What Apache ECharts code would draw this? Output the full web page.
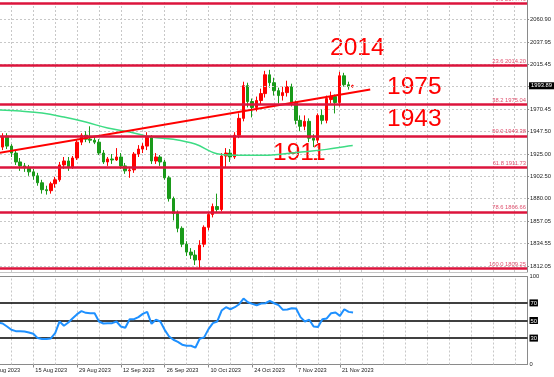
<!DOCTYPE html>
<html>
<head>
<meta charset="utf-8">
<script src="https://cdn.jsdelivr.net/npm/echarts@6.0.0/dist/echarts.min.js"></script>
<style>
  html, body { margin: 0; padding: 0; background: #ffffff; }
  #chart { width: 554px; height: 377px; }
</style>
</head>
<body>
<div id="chart"></div>
<script>
// daily bars from 3 Aug 2023 to 24 Nov 2023: [open, close, low, high]
var ohlc = [
  [1935, 1933, 1928, 1938], [1932, 1943, 1929, 1946], [1943, 1933, 1930, 1946], [1933, 1926, 1922, 1935],
  [1926, 1917, 1914, 1929], [1917, 1913, 1908, 1921], [1913, 1911, 1907, 1916], [1911, 1907, 1903, 1914],
  [1907, 1903, 1899, 1910], [1903, 1896, 1893, 1906], [1896, 1889, 1885, 1899], [1889, 1888, 1884, 1893],
  [1888, 1895, 1885, 1897], [1895, 1899, 1891, 1902], [1899, 1914, 1897, 1917], [1914, 1918, 1910, 1922],
  [1918, 1912, 1908, 1922], [1912, 1921, 1910, 1923], [1921, 1937, 1919, 1939], [1937, 1944, 1934, 1946],
  [1944, 1940, 1937, 1948], [1940, 1939, 1936, 1953], [1939, 1937, 1935, 1942], [1937, 1926, 1924, 1940],
  [1926, 1917, 1915, 1929], [1917, 1920, 1913, 1922], [1920, 1919, 1915, 1925], [1919, 1922, 1918, 1931],
  [1922, 1913, 1910, 1926], [1913, 1908, 1905, 1916], [1908, 1909, 1901, 1912], [1909, 1925, 1906, 1927],
  [1925, 1930, 1922, 1934], [1930, 1933, 1926, 1936], [1933, 1942, 1929, 1947], [1942, 1918, 1915, 1944],
  [1918, 1922, 1915, 1926], [1922, 1917, 1913, 1924], [1917, 1901, 1899, 1919], [1901, 1880, 1877, 1903],
  [1880, 1865, 1858, 1882], [1865, 1850, 1846, 1868], [1850, 1834, 1831, 1852], [1834, 1826, 1822, 1837],
  [1826, 1823, 1819, 1830], [1823, 1818, 1813, 1828], [1818, 1833, 1810, 1838], [1834, 1851, 1831, 1853],
  [1851, 1864, 1848, 1866], [1864, 1872, 1861, 1875], [1872, 1869, 1866, 1885], [1869, 1923, 1867, 1926],
  [1923, 1926, 1912, 1931], [1926, 1922, 1917, 1930], [1922, 1944, 1920, 1947], [1944, 1961, 1941, 1966],
  [1961, 1994, 1958, 1998], [1994, 1978, 1972, 1997], [1978, 1972, 1962, 1981], [1972, 1979, 1968, 1983],
  [1979, 1986, 1975, 1991], [1986, 2005, 1982, 2009], [2005, 1997, 1992, 2010], [1997, 1989, 1984, 2002],
  [1989, 1984, 1976, 1992], [1984, 1987, 1979, 1993], [1987, 1993, 1983, 1999], [1993, 1977, 1973, 1996],
  [1977, 1959, 1955, 1979], [1959, 1953, 1948, 1964], [1953, 1958, 1949, 1964], [1958, 1941, 1937, 1961],
  [1941, 1939, 1932, 1945], [1939, 1964, 1936, 1966], [1964, 1959, 1955, 1970], [1959, 1981, 1956, 1984],
  [1980, 1983, 1976, 1988], [1983, 1977, 1966, 1985], [1977, 2004, 1973, 2008], [2004, 1995, 1993, 2007],
  [1995, 1993, 1990, 1998], [1993, 1993.89, 1992, 1995]
];

// RSI, one value per bar
var rsi = [
  47.7, 46.6, 43.2, 39.4, 37.9, 37.9, 37.5, 36.4, 34.9, 30.0,
  28.9, 28.9, 29.6, 35.7, 48.9, 44.0, 47.7, 52.6, 57.2, 60.6,
  58.7, 58.3, 58.3, 48.9, 46.6, 47.0, 47.0, 48.9, 43.2, 41.7,
  51.5, 51.5, 53.8, 57.5, 59.8, 46.2, 50.8, 48.9, 39.4, 31.9,
  28.1, 25.8, 22.5, 21.3, 21.3, 19.1, 29.2, 30.8, 40.2, 47.0,
  48.9, 61.3, 65.1, 62.8, 65.1, 68.5, 74.9, 70.8, 68.9, 67.4,
  69.2, 69.6, 72.3, 69.6, 67.4, 62.1, 62.5, 64.0, 63.6, 53.8,
  48.9, 50.8, 43.2, 42.5, 51.5, 52.3, 58.3, 59.1, 55.3, 62.8,
  59.8, 59.1
];

// moving average read every few bars: [bar, value]
var maPoints = [
  [0, 1969.6], [5, 1968.4], [10, 1966.4], [15, 1962.3], [20, 1957.3], [25, 1951.2],
  [30, 1947.2], [35, 1942.1], [40, 1940.0], [45, 1935.1], [50, 1925.3], [55, 1923.7],
  [60, 1923.7], [65, 1925.0], [70, 1927.3], [75, 1929.7], [80, 1933.1], [81, 1933.6]
];

// trend line ends: [bar, price]
var trendPoints = [[0, 1926.0], [85, 1990.1]];

var fibPct = [0.0, 23.6, 38.2, 50.0, 61.8, 78.6, 100.0];
var fibPrice = [2077.49, 2014.20, 1975.04, 1943.38, 1911.73, 1866.66, 1809.25];

var priceLabels = [2060.90, 2037.95, 2015.45, 1970.45, 1947.50, 1925.00, 1902.50, 1880.00, 1857.05, 1834.55, 1812.05];
var priceGrid = [2060.90, 2037.95, 2015.45, 1992.95, 1970.45, 1947.50, 1925.00, 1902.50, 1880.00, 1857.05, 1834.55, 1812.05];
var lastPrice = 1993.89;

var rsiLabels = [0, 30, 50, 70, 100];
var rsiLevels = [30, 50, 70];

var levelTexts = ['2014', '1975', '1943', '1911'];

// trading days from 1 Aug 2023; bar 0 (3 Aug) is days[2]
var PAD = 2;
var months = ['Jan','Feb','Mar','Apr','May','Jun','Jul','Aug','Sep','Oct','Nov','Dec'];
var days = [];
var d = new Date(2023, 7, 1);
while (days.length < 130) {
  if (d.getDay() != 0 && d.getDay() != 6) {
    days.push(d.getDate() + ' ' + months[d.getMonth()] + ' ' + d.getFullYear());
  }
  d.setDate(d.getDate() + 1);
}
var lastBar = ohlc.length - 1;

// weekly grid every 5 bars, date label every 10 bars
var weekLines = [];
for (var w = 3; w < 121; w += 5) weekLines.push(w);
var dateBars = [];
for (var b = 8; b <= lastBar; b += 10) dateBars.push(b);

var candleData = ohlc.map(function (c, i) { return [i, c[0], c[1], c[2], c[3]]; });
var rsiData = rsi.map(function (v, i) { return [i, v]; });

var fibLines = fibPrice.map(function (p, i) {
  return { yAxis: p, label: { formatter: fibPct[i].toFixed(1) + ' ' + p.toFixed(2) } };
});
fibLines.push({
  yAxis: lastPrice,
  lineStyle: { color: '#c8c8c8', width: 1, type: [2, 2] },
  label: {
    position: 'end', distance: 2, formatter: lastPrice.toFixed(2),
    color: '#ffffff', backgroundColor: '#000000', padding: [1, 2, 0, 2], fontSize: 5.8
  }
});

var FONT = '"Liberation Sans", Arial, sans-serif';
var dash = { color: '#c8c8c8', width: 1, type: [2, 2] };
var vLines = weekLines.map(function (v) { return { xAxis: v }; });
var hLines = priceGrid.map(function (v) { return { yAxis: v }; });

var X_MIN = 0.4, X_MAX = 120.83;

var chart = echarts.init(document.getElementById('chart'));

var option = {
  animation: false,
  backgroundColor: '#ffffff',
  grid: [
    { left: 0, right: 26.5, top: 0, height: 272 },
    { left: 0, right: 26.5, top: 276.5, height: 88 }
  ],
  xAxis: [
    {
      type: 'value', gridIndex: 0, min: X_MIN, max: X_MAX,
      axisLine: { show: true, onZero: false, lineStyle: { color: '#c4c4c4', width: 1 } },
      axisTick: { show: false }, axisLabel: { show: false }, splitLine: { show: false }
    },
    {
      type: 'value', gridIndex: 1, min: X_MIN, max: X_MAX,
      axisLine: { show: true, onZero: false, lineStyle: { color: '#8a8a8a', width: 1 } },
      axisTick: { show: true, customValues: dateBars, length: 3, lineStyle: { color: '#8a8a8a' } },
      axisLabel: {
        customValues: dateBars, align: 'left', margin: 3, padding: [0, 0, 0, 2],
        fontSize: 5.6, fontFamily: FONT, color: '#222222',
        formatter: function (v) { return days[Math.round(v) + PAD]; }
      },
      splitLine: { show: false }
    }
  ],
  yAxis: [
    {
      type: 'value', gridIndex: 0, position: 'right', min: 1805.9, max: 2080.5,
      axisLine: { show: true, lineStyle: { color: '#8a8a8a', width: 1 } },
      axisTick: { show: true, length: 2, customValues: priceGrid, lineStyle: { color: '#8a8a8a' } },
      axisLabel: {
        customValues: priceLabels, margin: 3, fontSize: 5.8, fontFamily: FONT, color: '#222222',
        formatter: function (v) { return v.toFixed(2); }
      },
      splitLine: { show: false }
    },
    {
      type: 'value', gridIndex: 1, position: 'right', min: 0, max: 100,
      axisLine: { show: true, lineStyle: { color: '#8a8a8a', width: 1 } },
      axisTick: { show: false, customValues: rsiLabels },
      axisLabel: {
        customValues: rsiLabels, margin: 2, fontSize: 5.8, fontFamily: FONT, color: '#222222',
        formatter: function (v) {
          return rsiLevels.indexOf(v) >= 0 ? '{b|' + v + '}' : '' + v;
        },
        rich: { b: { backgroundColor: '#000000', color: '#ffffff', fontSize: 5.8, padding: [1, 1, 0, 1] } }
      },
      splitLine: { show: false }
    }
  ],
  series: [
    {
      // dotted grid of the price window
      type: 'line', xAxisIndex: 0, yAxisIndex: 0, data: [], silent: true,
      markLine: { silent: true, z: 1, symbol: ['none', 'none'], label: { show: false }, lineStyle: dash, data: vLines.concat(hLines) }
    },
    {
      // dotted grid of the RSI window
      type: 'line', xAxisIndex: 1, yAxisIndex: 1, data: [], silent: true,
      markLine: { silent: true, z: 1, symbol: ['none', 'none'], label: { show: false }, lineStyle: dash, data: vLines }
    },
    {
      type: 'candlestick', xAxisIndex: 0, yAxisIndex: 0,
      data: candleData, encode: { x: 0, y: [1, 2, 3, 4] },
      barWidth: 3, clip: false,
      itemStyle: { color: '#ff0000', color0: '#1a9a1a', borderColor: '#ff0000', borderColor0: '#1a9a1a', borderWidth: 1 },
      markLine: {
        silent: true, symbol: ['none', 'none'],
        lineStyle: { color: '#dc143c', width: 2.5, type: 'solid' },
        label: { position: 'insideEndTop', distance: 1, fontSize: 5.8, fontFamily: FONT, color: '#e0506e' },
        data: fibLines
      }
    },
    {
      type: 'line', xAxisIndex: 0, yAxisIndex: 0, data: trendPoints,
      symbol: 'none', lineStyle: { color: '#ff0000', width: 2 }, z: 4
    },
    {
      type: 'line', xAxisIndex: 0, yAxisIndex: 0, data: maPoints,
      symbol: 'none', smooth: 0.4, lineStyle: { color: '#3ddc84', width: 1.5 }, z: 3
    },
    {
      type: 'line', xAxisIndex: 1, yAxisIndex: 1, data: rsiData, z: 6,
      symbol: 'none', lineStyle: { color: '#1e90ff', width: 2 },
      markLine: {
        silent: true, z: 3, symbol: ['none', 'none'], label: { show: false },
        lineStyle: { color: '#000000', width: 1.5, type: 'solid' },
        data: rsiLevels.map(function (v) { return { yAxis: v }; }).concat([
          { yAxis: 100, lineStyle: { color: '#8a8a8a', width: 1 } }
        ])
      }
    }
  ],
  graphic: [
    // the 1 Aug label, cut by the left edge
    { type: 'text', x: -8.5, y: 370.5, style: { text: days[0], fill: '#222222', font: '5.6px ' + FONT, verticalAlign: 'middle' } },
    { type: 'text', x: 330, y: 48.5, style: { text: levelTexts[0], fill: '#ff0000', font: '24.5px ' + FONT, verticalAlign: 'middle' } },
    { type: 'text', x: 387, y: 87.5, style: { text: levelTexts[1], fill: '#ff0000', font: '24.5px ' + FONT, verticalAlign: 'middle' } },
    { type: 'text', x: 387, y: 119.5, style: { text: levelTexts[2], fill: '#ff0000', font: '24.5px ' + FONT, verticalAlign: 'middle' } },
    { type: 'text', x: 273, y: 153, style: { text: levelTexts[3], fill: '#ff0000', font: '24.5px ' + FONT, verticalAlign: 'middle' } }
  ]
};

chart.setOption(option);
</script>
</body>
</html>
